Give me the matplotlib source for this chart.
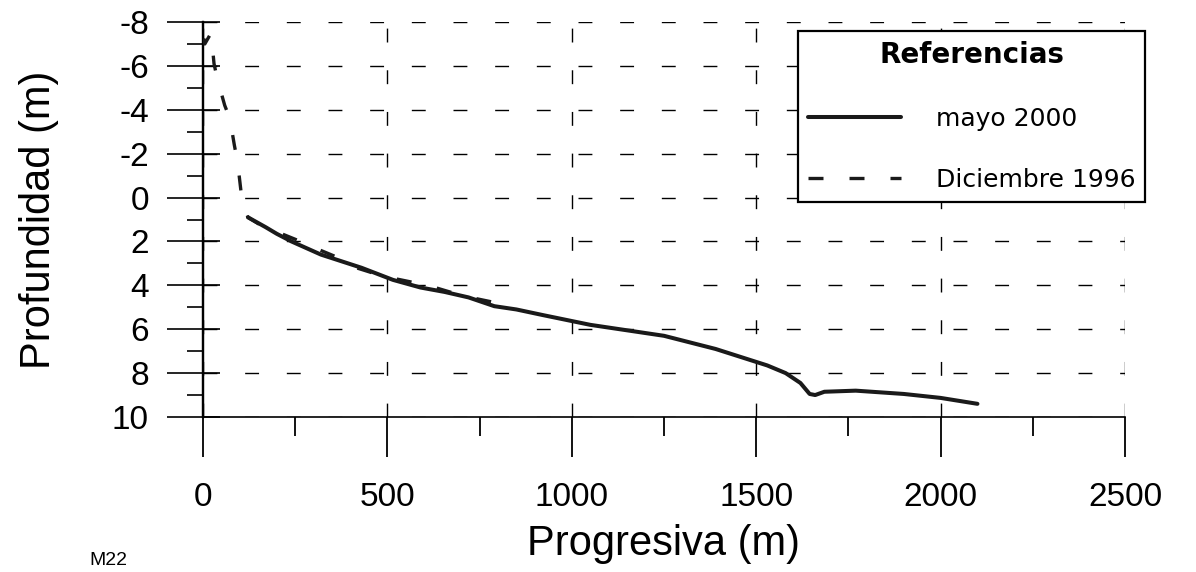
import matplotlib.pyplot as plt
import numpy as np

plt.rcParams['axes.unicode_minus'] = False
plt.rcParams['font.family'] = ['Liberation Sans', 'DejaVu Sans']

# perfil mayo 2000 (linea continua)
prog_2000 = [122, 170, 200, 240, 320, 430, 515, 590, 655, 720, 790, 850, 920,
             1050, 1250, 1390, 1530, 1580, 1620, 1645, 1660, 1685, 1770, 1900,
             2000, 2100]
prof_2000 = [0.9, 1.35, 1.65, 2.0, 2.6, 3.2, 3.75, 4.1, 4.3, 4.55, 4.95, 5.1,
             5.35, 5.8, 6.3, 6.9, 7.65, 8.0, 8.45, 8.95, 9.0, 8.85, 8.8, 8.95,
             9.13, 9.4]

# perfil diciembre 1996 (linea de trazos)
prog_1996 = [2, 5, 22, 30, 39, 59, 73, 85, 94, 103, 111, 122, 173, 203, 269,
             308, 374, 410, 480, 519, 594, 629, 699, 739, 813, 848]
prof_1996 = [-7.25, -7.0, -7.5, -6.1, -5.4, -4.2, -3.6, -2.4, -1.6, -0.3, 0.4,
             0.9, 1.43, 1.58, 2.03, 2.33, 2.79, 3.17, 3.54, 3.69, 3.95, 4.1,
             4.45, 4.6, 4.86, 5.0]

x_ticks = [0, 500, 1000, 1500, 2000, 2500]
x_minor = [250, 750, 1250, 1750, 2250]
y_ticks = [-8, -6, -4, -2, 0, 2, 4, 6, 8, 10]
y_minor = [-7, -5, -3, -1, 1, 3, 5, 7, 9]

fig = plt.figure(figsize=(11.96, 5.72), dpi=100)
ax = fig.add_axes([0.1697, 0.271, 0.7709, 0.6905])

ln1, = ax.plot(prog_2000, prof_2000, color='#1a1a1a', linewidth=2.9,
               solid_capstyle='round', label='mayo 2000', zorder=3)
ln2, = ax.plot(prog_1996, prof_1996, color='#1a1a1a', linewidth=2.4,
               linestyle=(0, (4.5, 7.8)), label='Diciembre 1996', zorder=3)

ax.set_xlim(0, 2500)
ax.set_ylim(10, -8)
ax.set_xticks(x_ticks)
ax.set_xticks(x_minor, minor=True)
ax.set_yticks(y_ticks)
ax.set_yticks(y_minor, minor=True)

ax.grid(True, which='major', color='black', linewidth=1.0,
        linestyle=(0, (10, 20)))

for s in ['top', 'right']:
    ax.spines[s].set_visible(False)
ax.spines['left'].set_linewidth(1.6)
ax.spines['bottom'].set_linewidth(1.2)

ax.tick_params(axis='x', which='major', direction='out', length=29, width=1.3,
               pad=18, labelsize=24)
ax.tick_params(axis='x', which='minor', direction='out', length=14, width=1.3)
ax.tick_params(axis='y', which='major', direction='out', length=26, width=1.2,
               pad=13, labelsize=24)
ax.tick_params(axis='y', which='minor', direction='out', length=11.5, width=1.2)

# parte interior de las marcas principales del eje y
sec = ax.secondary_yaxis('left')
sec.set_yticks(y_ticks)
sec.tick_params(direction='in', length=12, width=1.2, labelleft=False)
sec.spines['left'].set_linewidth(1.6)

ax.set_xlabel('Progresiva (m)', fontsize=30, labelpad=8)
ax.set_ylabel('Profundidad (m)', fontsize=30, labelpad=38)

leg = ax.legend(handles=[ln1, ln2], loc='upper right',
                bbox_to_anchor=(1.022, 0.977), borderaxespad=0,
                title='Referencias',
                title_fontproperties={'family': 'DejaVu Sans',
                                      'weight': 'bold', 'size': 20},
                prop={'family': 'DejaVu Sans', 'size': 18},
                handlelength=3.7, handletextpad=1.4, labelspacing=1.5,
                borderpad=0.4, fancybox=False, framealpha=1,
                edgecolor='black')
leg.get_frame().set_linewidth(1.6)
leg.set_zorder(5)

fig.text(0.075, 0.012, 'M22', fontsize=14)

fig.savefig('out.png', dpi=100)
